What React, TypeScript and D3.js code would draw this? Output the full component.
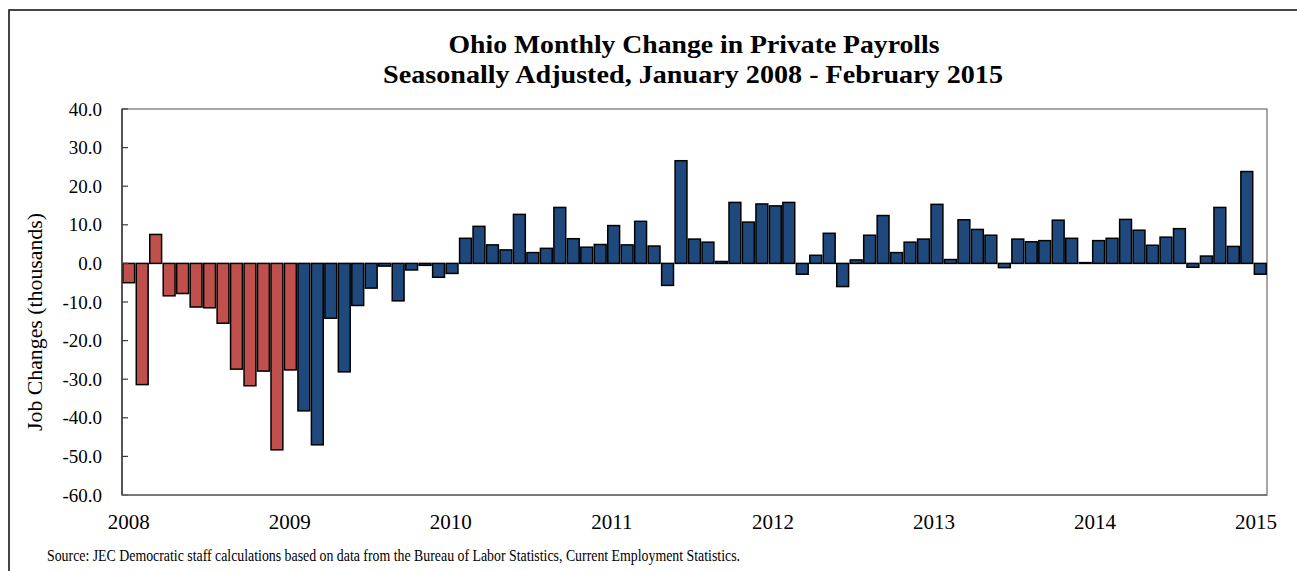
import React from "react";
import * as d3 from "d3";

// Monthly change in private payrolls, Ohio, thousands (Jan 2008 onward)
const values: number[] = [
  -5.0, -31.4, 7.5, -8.4, -7.8, -11.3, -11.5, -15.5, -27.4, -31.7, -27.9, -48.3,
  -27.6, -38.2, -47.0, -14.2, -28.1, -10.9, -6.4, -0.7, -9.7, -1.7, -0.5, -3.6,
  -2.6, 6.5, 9.6, 4.8, 3.5, 12.7, 2.8, 3.9, 14.5, 6.4, 4.2, 4.9,
  9.8, 4.8, 10.9, 4.5, -5.7, 26.6, 6.3, 5.5, 0.5, 15.8, 10.7, 15.4,
  14.9, 15.8, -2.8, 2.1, 7.8, -6.0, 0.9, 7.3, 12.4, 2.8, 5.5, 6.3,
  15.3, 1.0, 11.3, 8.8, 7.3, -1.1, 6.3, 5.6, 5.9, 11.2, 6.5, 0.2,
  5.9, 6.5, 11.4, 8.6, 4.7, 6.8, 9.0, -1.0, 1.9, 14.5, 4.4, 23.8,
  -2.8,
];

// First 13 months (through Jan 2009) shown in red, the rest in blue
const redMonthCount = 13;
const yearLabels: string[] = ["2008", "2009", "2010", "2011", "2012", "2013", "2014", "2015"];
const yTicks: number[] = [40, 30, 20, 10, 0, -10, -20, -30, -40, -50, -60];

const W = 1297;
const H = 571;
const plot = { left: 122, right: 1267, top: 109, bottom: 495 };
const RED = "#C0504D";
const BLUE = "#1F497D";
const FONT = "'Liberation Serif', 'DejaVu Serif', serif";

export default function App() {
  const x = d3
    .scaleBand<number>()
    .domain(values.map((_, i) => i))
    .range([plot.left, plot.right])
    .paddingInner(0.12)
    .paddingOuter(0.06);
  const y = d3.scaleLinear().domain([-60, 40]).range([plot.bottom, plot.top]);
  const bw = x.bandwidth();

  return (
    <svg
      width={W}
      height={H}
      style={{ position: "absolute", left: 0, top: 0, background: "#fff" }}
      fontFamily={FONT}
    >
      <rect x={0} y={0} width={W} height={H} fill="#fff" />
      {/* outer frame */}
      <rect x={9} y={10} width={W + 20} height={H + 20} fill="none" stroke="#1a1a1a" strokeWidth={1.6} />

      {/* title */}
      <text x={694} y={53} textAnchor="middle" fontSize={26} fontWeight="bold" fill="#000"
        textLength={491} lengthAdjust="spacingAndGlyphs">
        Ohio Monthly Change in Private Payrolls
      </text>
      <text x={693} y={83} textAnchor="middle" fontSize={26} fontWeight="bold" fill="#000"
        textLength={620} lengthAdjust="spacingAndGlyphs">
        Seasonally Adjusted, January 2008 - February 2015
      </text>

      {/* plot area border */}
      <rect x={plot.left} y={plot.top} width={plot.right - plot.left} height={plot.bottom - plot.top}
        fill="none" stroke="#8a8a8a" strokeWidth={1.5} />

      {/* bars */}
      {values.map((v, i) => {
        const y0 = y(0);
        const yv = y(v);
        return (
          <rect
            key={i}
            x={x(i)}
            y={Math.min(y0, yv)}
            width={bw}
            height={Math.max(Math.abs(yv - y0), 0.6)}
            fill={i < redMonthCount ? RED : BLUE}
            stroke="#000"
            strokeWidth={1.5}
          />
        );
      })}

      {/* left axis */}
      <line x1={plot.left} x2={plot.left} y1={plot.top} y2={plot.bottom} stroke="#3a3a3a" strokeWidth={1.5} />
      {yTicks.map((t) => (
        <g key={t}>
          <line x1={plot.left} x2={plot.left + 6} y1={y(t)} y2={y(t)} stroke="#3a3a3a" strokeWidth={1.2} />
          <text x={102} y={y(t)} dy="0.35em" textAnchor="end" fontSize={19} fill="#000">
            {t.toFixed(1)}
          </text>
        </g>
      ))}

      {/* bottom axis line */}
      <line x1={plot.left} x2={plot.right} y1={plot.bottom} y2={plot.bottom} stroke="#6a6a6a" strokeWidth={1.5} />

      {/* year labels */}
      {yearLabels.map((lab, k) => {
        const idx = k * 12;
        return (
          <text key={lab} x={(x(idx) ?? 0) + bw / 2 - k * 0.6} y={529} textAnchor="middle" fontSize={21} fill="#000">
            {lab}
          </text>
        );
      })}

      {/* y axis title */}
      <text transform={`translate(42, 322) rotate(-90)`} textAnchor="middle" fontSize={20} fill="#000"
        textLength={218} lengthAdjust="spacingAndGlyphs">
        Job Changes (thousands)
      </text>

      {/* source */}
      <text x={47} y={561} fontSize={16} fill="#000" textLength={693} lengthAdjust="spacingAndGlyphs">
        Source: JEC Democratic staff  calculations based on data from the Bureau of Labor Statistics, Current Employment Statistics.
      </text>
    </svg>
  );
}
